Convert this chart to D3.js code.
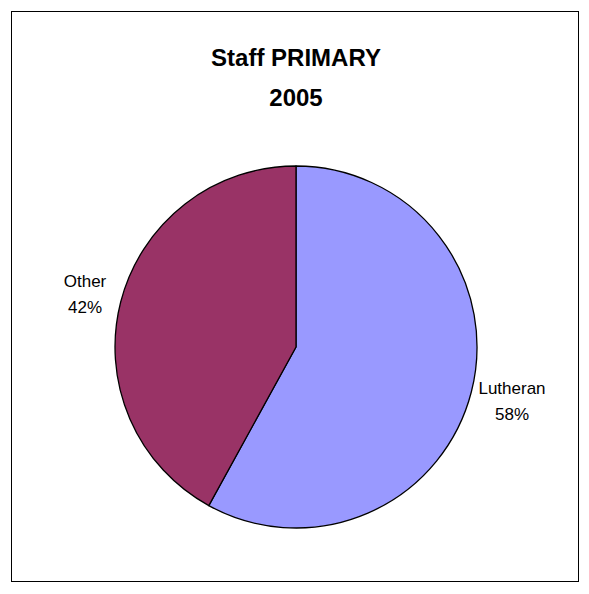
<!DOCTYPE html>
<html>
<head>
<meta charset="utf-8">
<script src="https://cdn.jsdelivr.net/npm/d3@7"></script>
<style>
  body { margin: 0; background: #fff; }
  svg { display: block; font-family: Arial, "Liberation Sans", sans-serif; }
</style>
</head>
<body>
<div id="chart"></div>
<script>
var w = 589, h = 594;

var categories = ["Lutheran", "Other"];
var values = [58, 42];
var colors = ["#9999FF", "#993366"];
var titleLines = ["Staff PRIMARY", "2005"];

var cx = 296, cy = 347, radius = 181;

var svg = d3.select("#chart").append("svg")
    .attr("width", w)
    .attr("height", h);

// outer frame
svg.append("rect")
    .attr("x", 11.5).attr("y", 11.5)
    .attr("width", 567).attr("height", 570)
    .attr("fill", "#fff")
    .attr("stroke", "#000")
    .attr("stroke-width", 1);

svg.selectAll(".title")
    .data(titleLines)
  .enter().append("text")
    .attr("class", "title")
    .attr("x", 296)
    .attr("y", function(d, i){ return 66 + i * 40; })
    .attr("text-anchor", "middle")
    .style("font-size", "24px")
    .style("font-weight", "bold")
    .text(function(d){ return d; });

var data = categories.map(function(c, i){ return {name: c, value: values[i], color: colors[i]}; });

var pie = d3.pie().sort(null).value(function(d){ return d.value; });
var arc = d3.arc().innerRadius(0).outerRadius(radius);

var g = svg.append("g").attr("transform", "translate(" + cx + "," + cy + ")");

var arcs = pie(data);

g.selectAll("path")
    .data(arcs)
  .enter().append("path")
    .attr("d", arc)
    .attr("fill", function(d){ return d.data.color; })
    .attr("stroke", "#000")
    .attr("stroke-width", 1.3)
    .attr("stroke-linejoin", "round");

// labels outside the pie
var labelArc = d3.arc().innerRadius(radius + 45).outerRadius(radius + 45);
var labelPos = {"Lutheran": [512, 394], "Other": [85, 287]};

var labels = svg.selectAll(".lbl")
    .data(arcs)
  .enter().append("text")
    .attr("class", "lbl")
    .attr("text-anchor", "middle")
    .style("font-size", "17px");

labels.append("tspan")
    .attr("x", function(d){ return labelPos[d.data.name][0]; })
    .attr("y", function(d){ return labelPos[d.data.name][1]; })
    .text(function(d){ return d.data.name; });

labels.append("tspan")
    .attr("x", function(d){ return labelPos[d.data.name][0]; })
    .attr("y", function(d){ return labelPos[d.data.name][1] + 26; })
    .text(function(d){ return d.data.value + "%"; });
</script>
</body>
</html>
